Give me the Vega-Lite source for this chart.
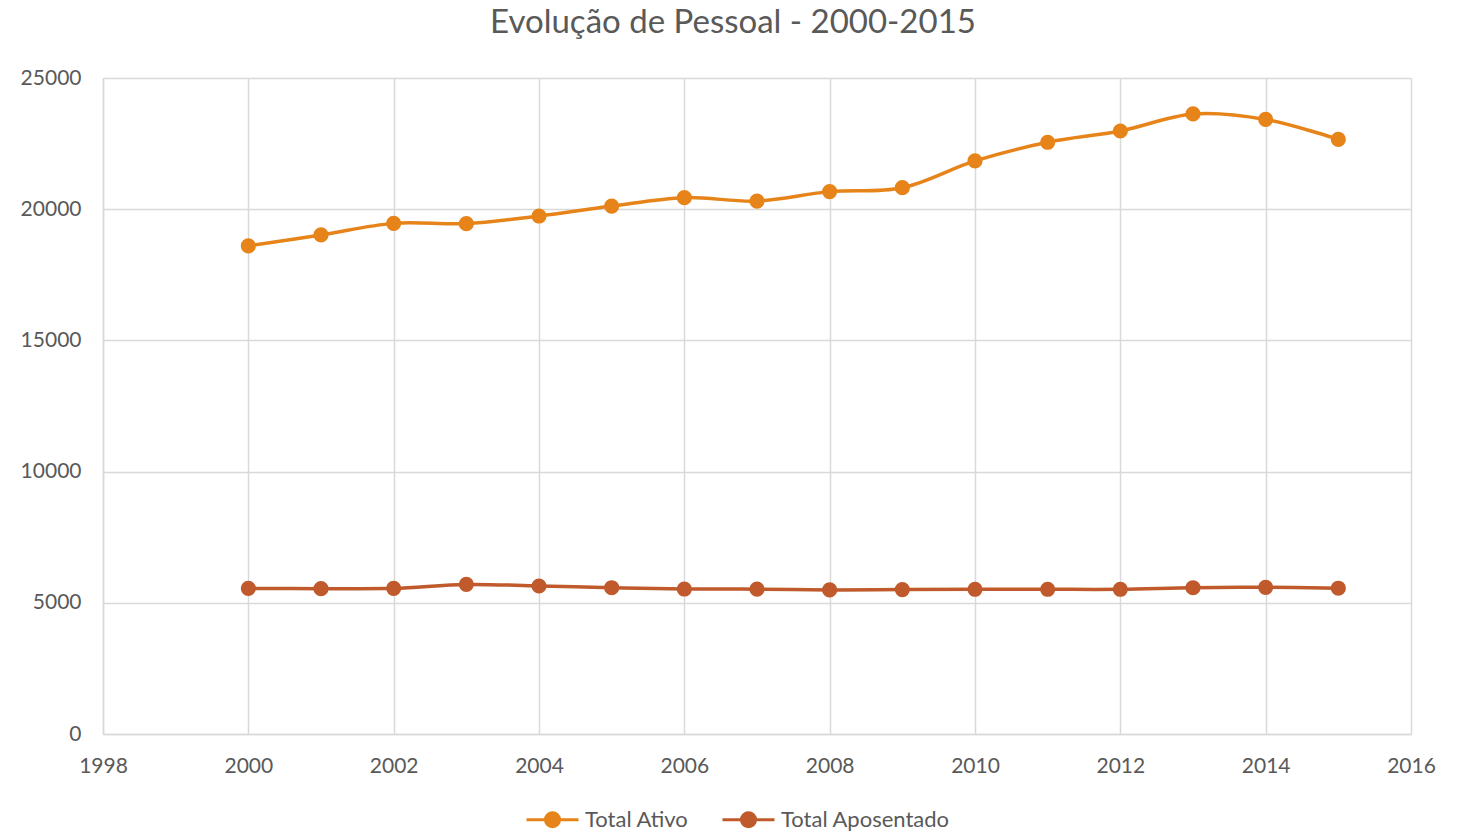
{
  "$schema": "https://vega.github.io/schema/vega-lite/v6.json",
  "width": 1308,
  "height": 656,
  "autosize": {"type": "none"},
  "padding": {"left": 103, "top": 78, "right": 54, "bottom": 98},
  "background": "white",
  "title": {
    "text": "Evolução de Pessoal - 2000-2015",
    "font": "Lato",
    "fontSize": 33,
    "fontWeight": "normal",
    "color": "#595959",
    "anchor": "middle",
    "frame": "group",
    "dx": -24,
    "offset": 27
  },
  "config": {
    "view": {"stroke": null},
    "font": "Lato",
    "legend": {
      "orient": "none",
      "legendX": 422,
      "legendY": 714,
      "direction": "horizontal",
      "title": null,
      "symbolType": "M-1,0L1,0M-0.27,0A0.27,0.27,0,1,1,0.27,0A0.27,0.27,0,1,1,-0.27,0Z",
      "symbolSize": 2704,
      "symbolStrokeWidth": 3,
      "labelFontSize": 22,
      "labelColor": "#595959",
      "labelFont": "Lato",
      "labelLimit": 0,
      "columnPadding": 27,
      "labelOffset": 5
    }
  },
  "data": {
    "values": [
      {"ano": 2000, "serie": "Total Ativo", "valor": 18600},
      {"ano": 2001, "serie": "Total Ativo", "valor": 19020},
      {"ano": 2002, "serie": "Total Ativo", "valor": 19460},
      {"ano": 2003, "serie": "Total Ativo", "valor": 19450},
      {"ano": 2004, "serie": "Total Ativo", "valor": 19740},
      {"ano": 2005, "serie": "Total Ativo", "valor": 20120},
      {"ano": 2006, "serie": "Total Ativo", "valor": 20440},
      {"ano": 2007, "serie": "Total Ativo", "valor": 20310},
      {"ano": 2008, "serie": "Total Ativo", "valor": 20670},
      {"ano": 2009, "serie": "Total Ativo", "valor": 20820},
      {"ano": 2010, "serie": "Total Ativo", "valor": 21840},
      {"ano": 2011, "serie": "Total Ativo", "valor": 22550},
      {"ano": 2012, "serie": "Total Ativo", "valor": 22980},
      {"ano": 2013, "serie": "Total Ativo", "valor": 23630},
      {"ano": 2014, "serie": "Total Ativo", "valor": 23420},
      {"ano": 2015, "serie": "Total Ativo", "valor": 22660},
      {"ano": 2000, "serie": "Total Aposentado", "valor": 5550},
      {"ano": 2001, "serie": "Total Aposentado", "valor": 5540},
      {"ano": 2002, "serie": "Total Aposentado", "valor": 5550},
      {"ano": 2003, "serie": "Total Aposentado", "valor": 5700},
      {"ano": 2004, "serie": "Total Aposentado", "valor": 5640},
      {"ano": 2005, "serie": "Total Aposentado", "valor": 5575},
      {"ano": 2006, "serie": "Total Aposentado", "valor": 5525},
      {"ano": 2007, "serie": "Total Aposentado", "valor": 5520},
      {"ano": 2008, "serie": "Total Aposentado", "valor": 5490},
      {"ano": 2009, "serie": "Total Aposentado", "valor": 5505},
      {"ano": 2010, "serie": "Total Aposentado", "valor": 5515},
      {"ano": 2011, "serie": "Total Aposentado", "valor": 5515},
      {"ano": 2012, "serie": "Total Aposentado", "valor": 5515},
      {"ano": 2013, "serie": "Total Aposentado", "valor": 5575},
      {"ano": 2014, "serie": "Total Aposentado", "valor": 5590},
      {"ano": 2015, "serie": "Total Aposentado", "valor": 5555}
    ]
  },
  "encoding": {
    "x": {
      "field": "ano",
      "type": "quantitative",
      "scale": {"domain": [1998, 2016], "nice": false, "zero": false},
      "axis": {
        "title": null,
        "values": [1998, 2000, 2002, 2004, 2006, 2008, 2010, 2012, 2014, 2016],
        "format": "d",
        "ticks": false,
        "tickSize": 0,
        "labelPadding": 21,
        "labelFontSize": 21,
        "labelColor": "#595959",
        "labelFont": "Lato",
        "domainColor": "#d9d9d9",
        "domainWidth": 1.5,
        "gridColor": "#d9d9d9",
        "gridWidth": 1.5,
        "grid": true,
        "labelFlush": false,
        "labelOverlap": false
      }
    },
    "y": {
      "field": "valor",
      "type": "quantitative",
      "scale": {"domain": [0, 25000], "nice": false},
      "axis": {
        "title": null,
        "values": [0, 5000, 10000, 15000, 20000, 25000],
        "format": "d",
        "ticks": false,
        "tickSize": 0,
        "labelPadding": 22,
        "labelFontSize": 21,
        "labelColor": "#595959",
        "labelFont": "Lato",
        "domainColor": "#d9d9d9",
        "domainWidth": 1.5,
        "gridColor": "#d9d9d9",
        "gridWidth": 1.5,
        "grid": true,
        "labelFlush": false,
        "labelOverlap": false
      }
    },
    "color": {
      "field": "serie",
      "type": "nominal",
      "scale": {"domain": ["Total Ativo", "Total Aposentado"], "range": ["#E6841A", "#C0592B"]},
      "legend": {
        "encode": {
          "symbols": {
            "update": {
              "stroke": {"scale": "color", "field": "value"},
              "fill": {"scale": "color", "field": "value"},
              "strokeWidth": {"value": 3},
              "opacity": {"value": 1}
            }
          }
        }
      }
    }
  },
  "layer": [
    {"mark": {"type": "line", "interpolate": "cardinal", "strokeWidth": 3.5}},
    {"mark": {"type": "point", "filled": true, "opacity": 1, "size": 230}}
  ]
}
